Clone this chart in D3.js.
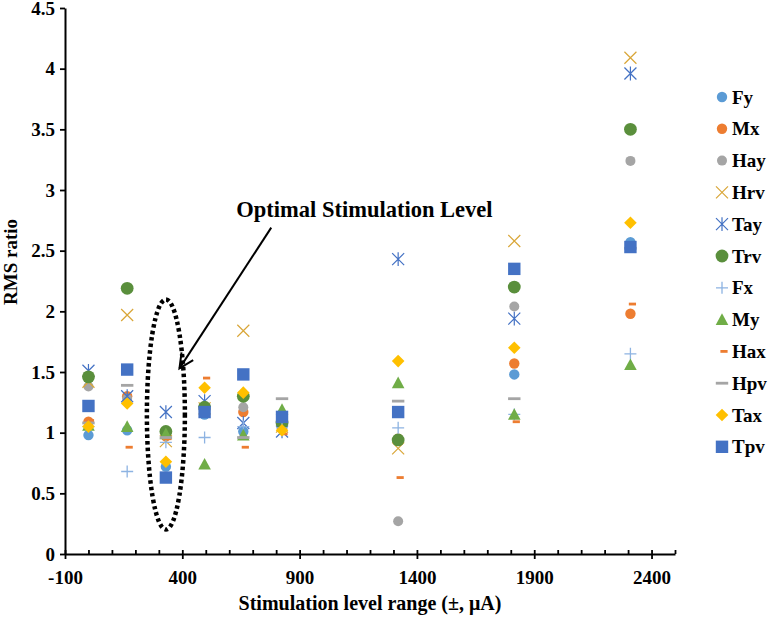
<!DOCTYPE html>
<html><head><meta charset="utf-8">
<script src="https://cdn.jsdelivr.net/npm/d3@7"></script>
<style>
body{margin:0;background:#fff}
text{font-family:"Liberation Serif","Times New Roman",serif;font-weight:bold;fill:#000}
</style>
</head><body>
<svg id="chart" width="768" height="617"></svg>
<script>
// ---- data ----
const levels = [0, 165, 330, 495, 660, 825, 1320, 1815, 2310];
const seriesNames = ["Fy","Mx","Hay","Hrv","Tay","Trv","Fx","My","Hax","Hpv","Tax","Tpv"];
const Fy  = [0.98, 1.02, 0.72, 1.15, 1.01, 1.05, 0.94, 1.48, 2.57];
const Mx  = [1.09, 1.30, 0.97, 1.18, 1.17, 1.04, 0.95, 1.57, 1.98];
const Hay = [1.38, 1.28, 0.98, 1.20, 1.21, 1.06, 0.27, 2.04, 3.24];
const Hrv = [1.42, 1.97, 0.93, 1.20, 1.84, 1.05, 0.87, 2.58, 4.09];
const Tay = [1.51, 1.30, 1.17, 1.26, 1.08, 1.01, 2.43, 1.94, 3.96];
const Trv = [1.46, 2.19, 1.01, 1.21, 1.30, 1.08, 0.94, 2.20, 3.50];
const Fx  = [1.05, 0.68, 0.92, 0.96, 1.05, 1.04, 1.04, 1.15, 1.65];
const My  = [1.06, 1.05, 0.99, 0.74, 0.98, 1.19, 1.41, 1.15, 1.56];
const Hax = [1.10, 0.88, 0.95, 1.45, 0.88, 0.99, 0.63, 1.09, 2.06];
const Hpv = [1.08, 1.39, 0.96, 1.20, 0.96, 1.28, 1.26, 1.28, 2.52];
const Tax = [1.05, 1.24, 0.76, 1.37, 1.33, 1.02, 1.59, 1.70, 2.73];
const Tpv = [1.22, 1.52, 0.63, 1.17, 1.48, 1.13, 1.17, 2.35, 2.53];
const seriesValues = [Fy, Mx, Hay, Hrv, Tay, Trv, Fx, My, Hax, Hpv, Tax, Tpv];
const xTickValues = [-100, 400, 900, 1400, 1900, 2400];
const yTickValues = [0, 0.5, 1, 1.5, 2, 2.5, 3, 3.5, 4, 4.5];
const xTitle = "Stimulation level range (±, μA)";
const yTitle = "RMS ratio";
const annotationText = "Optimal Stimulation Level";

// ---- styles ----
const markerShape = ["circle","circle","circle","x","asterisk","circle","plus","triangle","dash","dash","diamond","square"];
const markerSize  = [5.2, 5.2, 5, 6, 6, 6.4, 6, 6.3, 3.6, 6.2, 6.3, 6.2];
const markerColor = ["#5B9BD5","#ED7D31","#A5A5A5","#D9A638","#4472C4","#5A8F3C","#8DB3E2","#70AD47","#ED7D31","#A5A5A5","#FFC000","#4472C4"];

const svg = d3.select("#chart");
const x = d3.scaleLinear().domain([-100, 2500]).range([65, 675]);
const y = d3.scaleLinear().domain([0, 4.5]).range([554, 8]);

function drawMarker(g, i) {
  const s = markerSize[i], c = markerColor[i];
  switch (markerShape[i]) {
    case "circle": g.append("circle").attr("r", s).attr("fill", c); break;
    case "square": g.append("rect").attr("x", -s).attr("y", -s).attr("width", 2*s).attr("height", 2*s).attr("fill", c); break;
    case "diamond": g.append("path").attr("d", `M0,${-s}L${s},0L0,${s}L${-s},0Z`).attr("fill", c); break;
    case "triangle": g.append("path").attr("d", `M0,${-s}L${s},${s*0.85}L${-s},${s*0.85}Z`).attr("fill", c); break;
    case "x": g.append("path").attr("d", `M${-s},${-s}L${s},${s}M${-s},${s}L${s},${-s}`).attr("stroke", c).attr("stroke-width", 1.2).attr("fill", "none"); break;
    case "asterisk": g.append("path").attr("d", `M${-s},${-s}L${s},${s}M${-s},${s}L${s},${-s}M0,${-s*1.15}L0,${s*1.15}`).attr("stroke", c).attr("stroke-width", 1.2).attr("fill", "none"); break;
    case "plus": g.append("path").attr("d", `M${-s},0L${s},0M0,${-s}L0,${s}`).attr("stroke", c).attr("stroke-width", 1.3).attr("fill", "none"); break;
    case "dash": g.append("rect").attr("x", -s + (s < 5 ? 2 : 0)).attr("y", -1.4).attr("width", 2*s).attr("height", 2.8).attr("fill", c); break;
  }
}

// ---- axes ----
const gx = svg.append("g").attr("transform", `translate(0,${y(0)})`);
const minor = d3.range(-100, 2501, 100).filter(v => !xTickValues.includes(v));
gx.append("g").call(d3.axisBottom(x).tickValues(minor).tickSize(-4).tickFormat(""))
  .call(g => g.select(".domain").remove())
  .call(g => g.selectAll("line").attr("stroke", "#000").attr("stroke-width", 1.8));
gx.append("g").call(d3.axisBottom(x).tickValues(xTickValues).tickSizeInner(5).tickSizeOuter(0).tickPadding(12).tickFormat(d => String(d)))
  .call(g => g.select(".domain").attr("stroke", "#000").attr("stroke-width", 2))
  .call(g => g.selectAll(".tick line").attr("y1", -4).attr("stroke", "#000").attr("stroke-width", 1.8))
  .call(g => g.selectAll("text").style("font-size", "19px").style("font-family", "'Liberation Serif',serif").style("font-weight", "bold"));

const gy = svg.append("g").attr("transform", `translate(${x(-100)},0)`);
gy.call(d3.axisLeft(y).tickValues(yTickValues).tickSizeInner(5).tickSizeOuter(0).tickPadding(5).tickFormat(d => String(d)))
  .call(g => g.select(".domain").attr("stroke", "#000").attr("stroke-width", 2))
  .call(g => g.selectAll(".tick line").attr("stroke", "#000").attr("stroke-width", 1.8))
  .call(g => g.selectAll("text").style("font-size", "19px").style("font-family", "'Liberation Serif',serif").style("font-weight", "bold"));

svg.append("text").attr("x", 370).attr("y", 610).attr("text-anchor", "middle").style("font-size", "20px").text(xTitle);
svg.append("text").attr("transform", "translate(17,262) rotate(-90)").attr("text-anchor", "middle").style("font-size", "19px").text(yTitle);

// ---- points ----
seriesNames.forEach((name, i) => {
  const g = svg.append("g").attr("class", "series-" + name);
  seriesValues[i].forEach((v, j) => {
    const m = g.append("g").attr("transform", `translate(${x(levels[j])},${y(v)})`);
    drawMarker(m, i);
  });
});

// ---- annotation ----
const ann = svg.append("g");
ann.append("ellipse").attr("cx", x(330)).attr("cy", y(1.15)).attr("rx", 19).attr("ry", 115)
  .attr("fill", "none").attr("stroke", "#000").attr("stroke-width", 4.5).attr("stroke-dasharray", "3.5 3");
const a0 = [x(779), y(2.69)], a1 = [x(388), y(1.53)];
ann.append("line").attr("x1", a0[0]).attr("y1", a0[1]).attr("x2", a1[0]).attr("y2", a1[1]).attr("stroke", "#000").attr("stroke-width", 2);
const ang = Math.atan2(a0[1] - a1[1], a0[0] - a1[0]);
const hl = 16, spread = 0.45;
ann.append("path")
  .attr("d", `M${a1[0] + hl*Math.cos(ang - spread)},${a1[1] + hl*Math.sin(ang - spread)}L${a1[0]},${a1[1]}L${a1[0] + hl*Math.cos(ang + spread)},${a1[1] + hl*Math.sin(ang + spread)}`)
  .attr("fill", "none").attr("stroke", "#000").attr("stroke-width", 2);
ann.append("text").attr("x", x(630)).attr("y", y(2.78)).style("font-size", "22.5px").text(annotationText);

// ---- legend ----
const legend = svg.append("g").attr("transform", "translate(722,97)");
seriesNames.forEach((name, i) => {
  const row = legend.append("g").attr("transform", `translate(0,${i * 31.8})`);
  drawMarker(row, i);
  row.append("text").attr("x", 10).attr("dy", "0.35em").style("font-size", "19px").text(name);
});
</script>
</body></html>
